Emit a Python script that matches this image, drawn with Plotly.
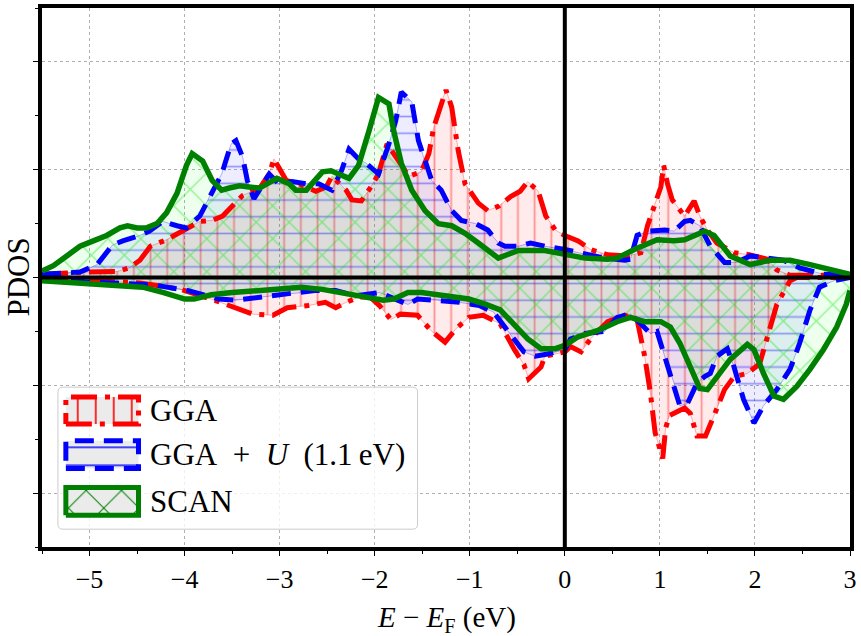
import plotly.graph_objects as go

# ---------------- data (E - E_F in eV, PDOS in arbitrary units) ----------------
gga_up = [(-5.5, 0.03), (-5.07, 0.05), (-4.71, 0.055), (-4.58, 0.09), (-4.47, 0.16), (-4.36, 0.29),
          (-4.19, 0.35), (-4.02, 0.43), (-3.84, 0.52), (-3.71, 0.53), (-3.60, 0.57), (-3.50, 0.66),
          (-3.39, 0.76), (-3.29, 0.80), (-3.21, 0.83), (-3.11, 0.96), (-3.06, 1.10), (-2.93, 0.90),
          (-2.80, 0.87), (-2.62, 0.80), (-2.51, 0.84), (-2.45, 0.94), (-2.30, 0.81), (-2.24, 0.72),
          (-2.14, 0.71), (-2.04, 0.84), (-1.96, 0.96), (-1.87, 1.24), (-1.78, 1.13), (-1.64, 0.94),
          (-1.51, 0.98), (-1.43, 1.15), (-1.38, 1.39), (-1.30, 1.62), (-1.25, 1.74), (-1.19, 1.58),
          (-1.12, 1.17), (-1.05, 0.87), (-0.91, 0.69), (-0.81, 0.62), (-0.70, 0.66), (-0.57, 0.75),
          (-0.47, 0.80), (-0.39, 0.89), (-0.28, 0.80), (-0.20, 0.57), (-0.10, 0.44), (0.0, 0.39),
          (0.14, 0.34), (0.27, 0.26), (0.45, 0.21), (0.66, 0.20), (0.80, 0.23), (0.87, 0.48),
          (0.94, 0.66), (1.01, 0.84), (1.04, 1.04), (1.08, 0.87), (1.13, 0.72), (1.26, 0.57),
          (1.36, 0.71), (1.42, 0.57), (1.50, 0.44), (1.60, 0.32), (1.78, 0.23), (1.95, 0.21),
          (2.13, 0.17), (2.23, 0.07), (2.37, 0.02), (3.0, 0.02)]

gga_dn = [(-5.5, -0.02), (-4.94, -0.03), (-4.47, -0.05), (-4.04, -0.11), (-3.72, -0.20), (-3.42, -0.30),
          (-3.28, -0.34), (-3.07, -0.35), (-2.92, -0.28), (-2.70, -0.26), (-2.52, -0.23), (-2.41, -0.28),
          (-2.30, -0.23), (-2.16, -0.18), (-2.05, -0.18), (-1.95, -0.26), (-1.83, -0.39), (-1.73, -0.34),
          (-1.55, -0.35), (-1.40, -0.50), (-1.26, -0.60), (-1.15, -0.48), (-1.01, -0.37), (-0.86, -0.35),
          (-0.68, -0.43), (-0.53, -0.67), (-0.43, -0.81), (-0.38, -0.94), (-0.25, -0.83), (-0.21, -0.73),
          (-0.10, -0.71), (0.0, -0.69), (0.06, -0.64), (0.17, -0.69), (0.27, -0.57), (0.45, -0.41),
          (0.63, -0.35), (0.76, -0.39), (0.84, -0.73), (0.90, -1.07), (0.95, -1.44), (1.03, -1.68),
          (1.06, -1.40), (1.10, -1.28), (1.26, -1.21), (1.32, -1.26), (1.39, -1.47), (1.48, -1.47),
          (1.57, -1.28), (1.68, -1.04), (1.78, -0.92), (1.92, -0.89), (2.05, -0.80), (2.13, -0.55),
          (2.23, -0.25), (2.37, -0.03), (2.44, 0.0), (3.0, 0.0)]

ggau_up = [(-5.5, 0.03), (-5.10, 0.05), (-4.92, 0.12), (-4.76, 0.30), (-4.65, 0.34), (-4.47, 0.39),
           (-4.37, 0.43), (-4.23, 0.52), (-4.08, 0.48), (-3.98, 0.46), (-3.84, 0.57), (-3.71, 0.80),
           (-3.61, 0.96), (-3.51, 1.24), (-3.46, 1.27), (-3.39, 1.12), (-3.34, 0.90), (-3.27, 0.73),
           (-3.11, 0.96), (-3.01, 0.87), (-2.87, 0.89), (-2.72, 0.87), (-2.59, 0.87), (-2.45, 0.81),
           (-2.35, 0.99), (-2.27, 1.19), (-2.17, 1.10), (-2.09, 1.06), (-1.96, 0.96), (-1.85, 1.24),
           (-1.78, 1.45), (-1.72, 1.72), (-1.61, 1.63), (-1.54, 1.27), (-1.47, 1.07), (-1.40, 0.90),
           (-1.30, 0.81), (-1.19, 0.62), (-1.09, 0.53), (-0.94, 0.50), (-0.81, 0.44), (-0.70, 0.32),
           (-0.63, 0.29), (-0.49, 0.29), (-0.36, 0.32), (-0.21, 0.29), (0.0, 0.26), (0.14, 0.23),
           (0.42, 0.18), (0.63, 0.16), (0.69, 0.17), (0.76, 0.39), (0.87, 0.43), (1.05, 0.44),
           (1.15, 0.43), (1.26, 0.52), (1.32, 0.53), (1.42, 0.48), (1.53, 0.29), (1.68, 0.14),
           (1.81, 0.14), (1.95, 0.20), (2.09, 0.18), (2.30, 0.16), (2.47, 0.09), (2.72, 0.03), (3.0, 0.02)]

ggau_dn = [(-5.5, -0.02), (-4.80, -0.05), (-4.32, -0.07), (-3.97, -0.12), (-3.64, -0.20), (-3.46, -0.21),
           (-3.20, -0.18), (-2.99, -0.16), (-2.77, -0.14), (-2.63, -0.12), (-2.41, -0.12), (-2.20, -0.17),
           (-1.95, -0.14), (-1.83, -0.18), (-1.65, -0.25), (-1.55, -0.20), (-1.33, -0.21), (-1.11, -0.23),
           (-0.90, -0.26), (-0.75, -0.32), (-0.58, -0.52), (-0.43, -0.69), (-0.31, -0.73), (-0.18, -0.71),
           (0.0, -0.67), (0.06, -0.57), (0.21, -0.52), (0.42, -0.50), (0.55, -0.37), (0.69, -0.34),
           (0.80, -0.43), (0.90, -0.52), (0.97, -0.50), (1.05, -0.73), (1.15, -0.98), (1.21, -1.19),
           (1.29, -1.17), (1.39, -0.98), (1.47, -0.92), (1.53, -0.89), (1.60, -0.73), (1.71, -0.66),
           (1.78, -0.83), (1.88, -1.13), (1.99, -1.35), (2.09, -1.19), (2.23, -1.04), (2.37, -0.85),
           (2.47, -0.61), (2.58, -0.30), (2.68, -0.09), (2.83, -0.03), (3.0, 0.0)]

scan_up = [(-5.5, 0.06), (-5.38, 0.11), (-5.24, 0.20), (-5.10, 0.29), (-4.96, 0.34), (-4.82, 0.39),
           (-4.68, 0.46), (-4.60, 0.48), (-4.50, 0.46), (-4.40, 0.46), (-4.29, 0.50), (-4.19, 0.60),
           (-4.08, 0.78), (-3.98, 1.04), (-3.92, 1.15), (-3.81, 1.08), (-3.71, 0.90), (-3.61, 0.81),
           (-3.53, 0.83), (-3.42, 0.85), (-3.32, 0.84), (-3.21, 0.83), (-3.03, 0.92), (-2.90, 0.87),
           (-2.83, 0.81), (-2.72, 0.81), (-2.55, 0.98), (-2.46, 0.99), (-2.27, 0.92), (-2.17, 1.04),
           (-2.06, 1.36), (-1.96, 1.67), (-1.85, 1.61), (-1.80, 1.36), (-1.72, 1.06), (-1.61, 0.81),
           (-1.47, 0.62), (-1.33, 0.50), (-1.19, 0.48), (-1.05, 0.41), (-0.91, 0.32), (-0.70, 0.18),
           (-0.49, 0.25), (-0.21, 0.25), (0.03, 0.21), (0.21, 0.18), (0.45, 0.17), (0.55, 0.18),
           (0.73, 0.26), (0.97, 0.35), (1.15, 0.34), (1.26, 0.35), (1.47, 0.43), (1.57, 0.39),
           (1.74, 0.20), (1.95, 0.12), (2.16, 0.16), (2.37, 0.16), (2.58, 0.12), (2.79, 0.07), (3.0, 0.03)]

scan_dn = [(-5.5, -0.03), (-4.97, -0.06), (-4.44, -0.09), (-4.22, -0.14), (-4.00, -0.20), (-3.90, -0.20),
           (-3.72, -0.16), (-3.50, -0.14), (-3.20, -0.12), (-2.99, -0.11), (-2.77, -0.09), (-2.55, -0.11),
           (-2.35, -0.14), (-2.13, -0.17), (-1.91, -0.21), (-1.80, -0.20), (-1.65, -0.14), (-1.51, -0.14),
           (-1.33, -0.16), (-1.18, -0.18), (-1.01, -0.20), (-0.83, -0.25), (-0.68, -0.30), (-0.53, -0.44),
           (-0.39, -0.57), (-0.25, -0.66), (-0.10, -0.66), (0.0, -0.63), (0.14, -0.55), (0.35, -0.49),
           (0.55, -0.41), (0.69, -0.37), (0.84, -0.41), (1.01, -0.41), (1.11, -0.46), (1.21, -0.61),
           (1.32, -0.83), (1.42, -1.03), (1.50, -1.04), (1.60, -0.92), (1.74, -0.76), (1.92, -0.62),
           (1.99, -0.67), (2.09, -0.89), (2.20, -1.10), (2.30, -1.13), (2.44, -1.01), (2.58, -0.85),
           (2.72, -0.67), (2.86, -0.46), (2.96, -0.25), (3.0, -0.12)]

labels = ["GGA", "GGA\u2002+\u2002<i>U</i>\u2002(1.1\u2009eV)", "SCAN"]
x_ticks = [-5, -4, -3, -2, -1, 0, 1, 2, 3]
y_ticks = [-2, -1, 0, 1, 2]

# ---------------- styles ----------------
FONT = "Liberation Serif"
styles = [
    dict(color="red", dash="26px,8px,5px,8px", width=5, bg="rgba(255,0,0,0.08)",
         hatch="|", hatchcolor="rgba(255,0,0,0.38)", hsize=16.7, hsol=0.11,
         edge="rgba(255,0,0,0.3)", lg_hatch="red", lg_hsize=18, lg_hsol=0.09),
    dict(color="blue", dash="19px,10px", width=5, bg="rgba(0,0,255,0.07)",
         hatch="-", hatchcolor="rgba(0,0,255,0.38)", hsize=16.7, hsol=0.1,
         edge="rgba(0,0,255,0.3)", lg_hatch="blue", lg_hsize=18, lg_hsol=0.08),
    dict(color="green", dash="solid", width=5.5, bg="rgba(0,255,0,0.07)",
         hatch="x", hatchcolor="rgba(0,230,0,0.42)", hsize=23.3, hsol=0.11,
         edge="rgba(0,160,0,0.3)", lg_hatch="green", lg_hsize=25, lg_hsol=0.08),
]
datasets = [(gga_up, gga_dn), (ggau_up, ggau_dn), (scan_up, scan_dn)]


def unzip(pairs):
    return [p[0] for p in pairs], [p[1] for p in pairs]


fig = go.Figure()

# filled areas (spin up / spin down) with hatches
for (up, dn), st in zip(datasets, styles):
    for curve in (up, dn):
        xs, ys = unzip(curve)
        fig.add_trace(go.Scatter(
            x=xs, y=ys, mode="lines", fill="tozeroy",
            line=dict(color=st["edge"], width=1),
            fillpattern=dict(shape=st["hatch"], size=st["hsize"], solidity=st["hsol"],
                             fgcolor=st["hatchcolor"], bgcolor=st["bg"], fgopacity=1,
                             fillmode="overlay"),
            showlegend=False, hoverinfo="skip"))

# curves on top
for (up, dn), st in zip(datasets, styles):
    for curve in (up, dn):
        xs, ys = unzip(curve)
        fig.add_trace(go.Scatter(
            x=xs, y=ys, mode="lines",
            line=dict(color=st["color"], width=st["width"], dash=st["dash"]),
            showlegend=False, hoverinfo="skip"))

# ---------------- legend (inset axes x2/y2) ----------------
LEG_PATCH_X = (0.022, 0.224)
LEG_ROWS = [(0.741, 0.930), (0.427, 0.622), (0.098, 0.294)]
LEG_TEXT_X = 0.25
for st, (y0, y1), lab in zip(styles, LEG_ROWS, labels):
    x0, x1 = LEG_PATCH_X
    fig.add_trace(go.Scatter(
        x=[x0, x1, x1, x0, x0], y=[y0, y0, y1, y1, y0], mode="lines", fill="toself",
        xaxis="x2", yaxis="y2",
        line=dict(color=st["color"], width=5, dash=st["dash"]),
        fillpattern=dict(shape=st["hatch"], size=st["lg_hsize"], solidity=st["lg_hsol"],
                         fgcolor=st["lg_hatch"], bgcolor="#ebebeb", fgopacity=1, fillmode="overlay"),
        showlegend=False, hoverinfo="skip"))
    fig.add_annotation(x=LEG_TEXT_X, y=(y0 + y1) / 2, xref="x2", yref="y2", text=lab,
                       showarrow=False, xanchor="left", yanchor="middle",
                       font=dict(family=FONT, size=31, color="black"))

rx, ry = 0.014, 0.035
box_path = (f"M {rx},0 L {1-rx},0 Q 1,0 1,{ry} L 1,{1-ry} Q 1,1 {1-rx},1 "
            f"L {rx},1 Q 0,1 0,{1-ry} L 0,{ry} Q 0,0 {rx},0 Z")
fig.add_shape(type="path", path=box_path, xref="x2", yref="y2", layer="below",
              fillcolor="rgba(255,255,255,0.8)", line=dict(color="#cccccc", width=1))

# zero lines
fig.add_shape(type="line", xref="x", yref="paper", x0=0, x1=0, y0=0, y1=1,
              line=dict(color="black", width=4), layer="above")
fig.add_shape(type="line", xref="paper", yref="y", x0=0, x1=1, y0=0, y1=0,
              line=dict(color="black", width=4), layer="above")

axis_common = dict(showline=True, linewidth=4, linecolor="black", mirror=True,
                   ticks="outside", ticklen=5, tickwidth=1.3, tickcolor="black",
                   showgrid=True, gridcolor="#b0b0b0", gridwidth=1, griddash="dot",
                   zeroline=False)

fig.update_layout(
    width=861, height=636,
    margin=dict(l=42, r=8, t=4, b=89),
    paper_bgcolor="white", plot_bgcolor="rgba(0,0,0,0)",
    showlegend=False,
    xaxis=dict(range=[-5.5, 3], tickmode="array", tickvals=x_ticks,
               ticktext=[("\u2212" + str(-v)) if v < 0 else str(v) for v in x_ticks],
               tickfont=dict(family=FONT, size=26, color="black"), ticklabelstandoff=1,
               minor=dict(dtick=0.5, tick0=0, ticks="outside", ticklen=3, tickwidth=1,
                          tickcolor="black", showgrid=False),
               **axis_common),
    yaxis=dict(range=[-2.5, 2.5], tickmode="array", tickvals=y_ticks, showticklabels=False,
               minor=dict(dtick=0.5, tick0=0, ticks="outside", ticklen=3, tickwidth=1,
                          tickcolor="black", showgrid=False),
               **axis_common),
    xaxis2=dict(domain=[0.01083, 0.4737], range=[-0.02, 1.02], visible=False,
                anchor="y2", fixedrange=True),
    yaxis2=dict(domain=[0.0278, 0.3018], range=[-0.02, 1.02], visible=False,
                anchor="x2", fixedrange=True),
)

fig.add_annotation(x=0.5, y=-0.133, xref="paper", yref="paper",
                   text="<i>E</i> \u2212 <i>E</i><sub>F</sub> (eV)", showarrow=False,
                   xanchor="center", yanchor="middle",
                   font=dict(family=FONT, size=29, color="black"))
fig.add_annotation(x=-0.0296, y=0.5, xref="paper", yref="paper", text="PDOS",
                   textangle=-90, showarrow=False, xanchor="center", yanchor="middle",
                   font=dict(family=FONT, size=31, color="black"))

fig.write_html("out.html")
